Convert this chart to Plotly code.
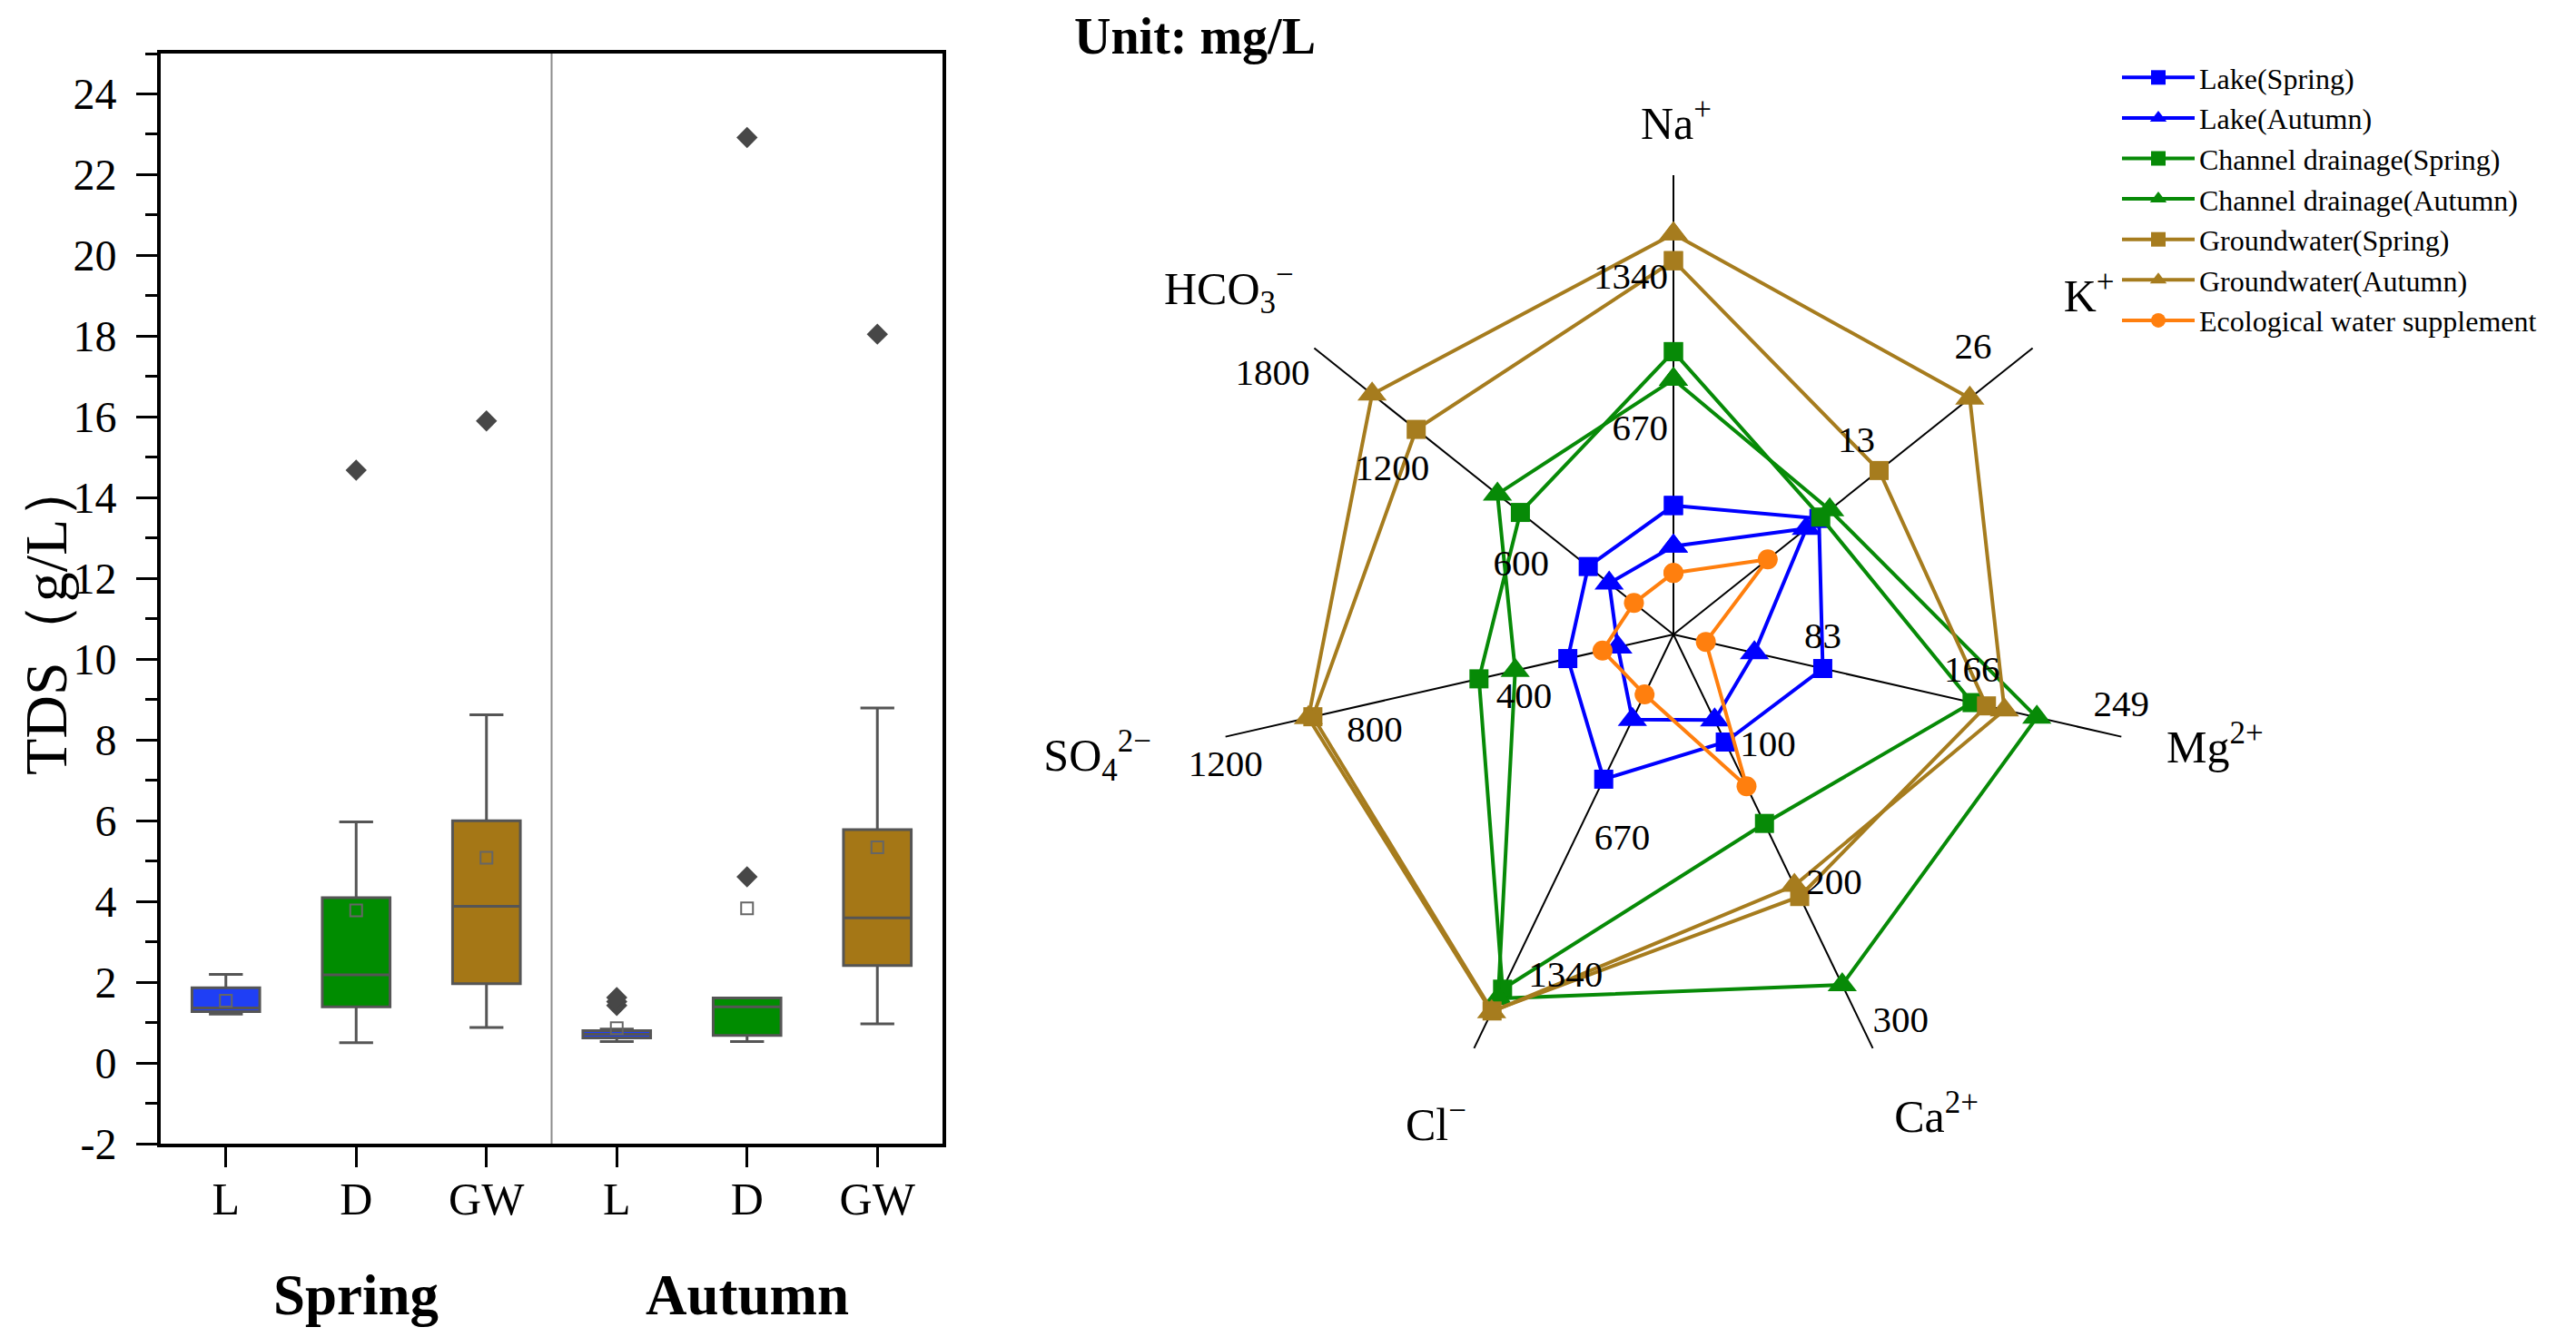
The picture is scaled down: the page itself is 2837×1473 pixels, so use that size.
import math
import plotly.graph_objects as go

# ---------------- Left panel: TDS box plot (g/L) ----------------
GROUPS = ["L", "D", "GW", "L", "D", "GW"]
SEASONS = ["Spring", "Autumn"]
BOX_Q1 = [1.27, 1.39, 1.96, 0.62, 0.68, 2.41]
BOX_MEDIAN = [1.36, 2.18, 3.88, 0.71, 1.39, 3.59]
BOX_Q3 = [1.86, 4.09, 6.00, 0.80, 1.61, 5.78]
BOX_LOW = [1.21, 0.50, 0.88, 0.53, 0.53, 0.97]
BOX_HIGH = [2.19, 5.97, 8.62, 0.84, 1.61, 8.79]
BOX_MEAN = [1.54, 3.78, 5.08, 0.86, 3.83, 5.34]
OUTLIER_GROUP = [1, 2, 3, 3, 3, 4, 4, 5]
OUTLIER_TDS = [14.68, 15.90, 1.42, 1.52, 1.62, 4.61, 22.92, 18.05]
Y_TICKS = list(range(-2, 25, 2))
BOX_COLORS = ["#1f3ff5", "#008c00", "#a57716", "#1f3ff5", "#008c00", "#a57716"]

# ---------------- Right panel: radar of major ions (mg/L) ----------------
IONS = ["Na<sup>+</sup>", "K<sup>+</sup>", "Mg<sup>2+</sup>", "Ca<sup>2+</sup>",
        "Cl<sup>−</sup>", "SO<sub>4</sub><sup>2−</sup>", "HCO<sub>3</sub><sup>−</sup>"]
AXIS_LO = [-230, -10, 0, 0, -230, 0, 0]
AXIS_HI = [1800, 30, 249, 300, 1800, 1200, 1800]
AXIS_TICKS = [[670, 1340], [13, 26], [83, 166, 249], [100, 200, 300],
              [670, 1340], [400, 800, 1200], [600, 1200, 1800]]
SERIES_NAMES = ["Lake(Spring)", "Lake(Autumn)", "Channel drainage(Spring)",
                "Channel drainage(Autumn)", "Groundwater(Spring)",
                "Groundwater(Autumn)", "Ecological water supplement"]
LAKE_SPRING = [340, 6.2, 83, 78, 480, 283, 427]
LAKE_AUTUMN = [160, 4.8, 45, 62, 188, 149, 322]
DRAIN_SPRING = [1020, 6.4, 166, 137, 1510, 521, 767]
DRAIN_AUTUMN = [897, 7.4, 202, 254, 1556, 424, 882]
GW_SPRING = [1422, 12.9, 174, 190, 1617, 966, 1289]
GW_AUTUMN = [1540, 23.0, 184, 182, 1621, 978, 1510]
ECO_SUPPLY = [42, 0.5, 18, 110, 64, 190, 198]
SERIES_VALUES = [LAKE_SPRING, LAKE_AUTUMN, DRAIN_SPRING, DRAIN_AUTUMN,
                 GW_SPRING, GW_AUTUMN, ECO_SUPPLY]
SERIES_COLORS = ["#0000ff", "#0000ff", "#078a07", "#078a07", "#a67c1e", "#a67c1e", "#ff7f0e"]
SERIES_SYMBOLS = ["square", "triangle-up", "square", "triangle-up", "square", "triangle-up", "circle"]

FONT = "Liberation Serif"

# page geometry (the html body adds an 8 px margin)
OFF = 8
W, H = 2837 - OFF, 1473 - OFF
R_PX = 506                       # length of a radar spoke in px
RMAX = 1.3                       # radial range, leaves room for the ion names
CX, CY = 1843 - OFF, 699 - OFF   # radar centre in figure px
R_DOM = R_PX * RMAX

N = len(IONS)
ION_ANGLE = [k * 360.0 / N for k in range(N)]

# per-axis tick label placement: px offset from tick point + anchor
TICK_DX = [-6, -26, 0, 0, 10, 0, -5]
TICK_DY = [0, -30, -33, -28, 25, 33, 30]
TICK_POS = ["middle left", "middle center", "middle center", "middle right",
            "middle right", "middle center", "middle left"]
# ion name placement: px offset from the end of each spoke
ION_DX = [3, 62, 103, 70, -42, -141, -94]
ION_DY = [-52, -53, 16, 80, 89, 25, -61]


def shift(r, theta_deg, dx, dy):
    t = math.radians(theta_deg)
    x = r * R_PX * math.sin(t) + dx
    y = -r * R_PX * math.cos(t) + dy
    return math.hypot(x, y) / R_PX, math.degrees(math.atan2(x, -y)) % 360


fig = go.Figure()

# boxes
for i in range(len(GROUPS)):
    fig.add_trace(go.Box(
        x=[i], q1=[BOX_Q1[i]], median=[BOX_MEDIAN[i]], q3=[BOX_Q3[i]],
        lowerfence=[BOX_LOW[i]], upperfence=[BOX_HIGH[i]],
        fillcolor=BOX_COLORS[i], line=dict(color="#555555", width=3),
        width=0.52, whiskerwidth=0.5, boxpoints=False, showlegend=False,
        xaxis="x", yaxis="y"))

fig.add_trace(go.Scatter(
    x=list(range(len(GROUPS))), y=BOX_MEAN, mode="markers",
    marker=dict(symbol="square-open", size=13, color="#666666", line=dict(width=2)),
    showlegend=False))
fig.add_trace(go.Scatter(
    x=OUTLIER_GROUP, y=OUTLIER_TDS, mode="markers",
    marker=dict(symbol="diamond", size=18, color="#474747"),
    showlegend=False))

# radar spokes
sr, st = [], []
for a in ION_ANGLE:
    sr += [0, 1, None]
    st += [a, a, None]
fig.add_trace(go.Scatterpolar(
    r=sr, theta=st, mode="lines", line=dict(color="black", width=2),
    showlegend=False, hoverinfo="skip", subplot="polar"))

# radar series
for name, vals, col, sym in zip(SERIES_NAMES, SERIES_VALUES, SERIES_COLORS, SERIES_SYMBOLS):
    r = [(v - lo) / (hi - lo) for v, lo, hi in zip(vals, AXIS_LO, AXIS_HI)]
    size = {"square": 21, "triangle-up": 28, "circle": 22}[sym]
    fig.add_trace(go.Scatterpolar(
        r=r + [r[0]], theta=ION_ANGLE + [360.0], mode="lines+markers", name=name,
        line=dict(color=col, width=4),
        marker=dict(symbol=sym, size=size, color=col),
        cliponaxis=False, subplot="polar"))

# per-axis scale labels
for k in range(N):
    rr, tt = [], []
    for t in AXIS_TICKS[k]:
        r0 = (t - AXIS_LO[k]) / (AXIS_HI[k] - AXIS_LO[k])
        r1, t1 = shift(r0, ION_ANGLE[k], TICK_DX[k], TICK_DY[k])
        rr.append(r1)
        tt.append(t1)
    fig.add_trace(go.Scatterpolar(
        r=rr, theta=tt, mode="text", text=[str(t) for t in AXIS_TICKS[k]],
        textposition=TICK_POS[k], textfont=dict(family=FONT, size=41, color="black"),
        cliponaxis=False, showlegend=False, hoverinfo="skip", subplot="polar"))

# ion names
ir, it = [], []
for k in range(N):
    r1, t1 = shift(1.0, ION_ANGLE[k], ION_DX[k], ION_DY[k])
    ir.append(r1)
    it.append(t1)
fig.add_trace(go.Scatterpolar(
    r=ir, theta=it, mode="text", text=IONS, textposition="middle center",
    textfont=dict(family=FONT, size=50, color="black"),
    cliponaxis=False, showlegend=False, hoverinfo="skip", subplot="polar"))

fig.update_layout(
    width=W, height=H,
    margin=dict(l=0, r=0, t=0, b=0, pad=0, autoexpand=False),
    paper_bgcolor="white", plot_bgcolor="white",
    font=dict(family=FONT, color="black"),
    xaxis=dict(domain=[(177 - OFF) / W, (1038 - OFF) / W], range=[-0.5, 5.5],
               tickmode="array", tickvals=list(range(6)), ticktext=GROUPS,
               showline=True, linecolor="black", linewidth=4, mirror=True,
               ticks="outside", ticklen=22, tickwidth=3, tickcolor="black",
               ticklabelstandoff=-8,
               tickfont=dict(family=FONT, size=50), showgrid=False, zeroline=False,
               automargin=False),
    yaxis=dict(domain=[(H - (1260 - OFF)) / H, (H - (59 - OFF)) / H], range=[-2, 25],
               tickmode="array", tickvals=Y_TICKS, ticktext=[str(v) for v in Y_TICKS],
               showline=True, linecolor="black", linewidth=4, mirror=True,
               ticks="outside", ticklen=23, tickwidth=3, tickcolor="black",
               ticklabelstandoff=12,
               minor=dict(dtick=1, ticks="outside", ticklen=13, tickwidth=3,
                          tickcolor="black", showgrid=False),
               tickfont=dict(family=FONT, size=48), showgrid=False, zeroline=False,
               automargin=False),
    polar=dict(
        domain=dict(x=[(CX - R_DOM) / W, (CX + R_DOM) / W],
                    y=[(H - CY - R_DOM) / H, (H - CY + R_DOM) / H]),
        bgcolor="rgba(0,0,0,0)",
        radialaxis=dict(range=[0, RMAX], visible=False),
        angularaxis=dict(type="linear", direction="clockwise", rotation=90,
                         showticklabels=False, showline=False, showgrid=False,
                         ticks="")),
    legend=dict(x=(2332 - OFF) / W, y=1 - (58 - OFF) / H, xanchor="left", yanchor="top",
                font=dict(family=FONT, size=32), bgcolor="rgba(0,0,0,0)",
                tracegroupgap=0, itemwidth=80),
    shapes=[dict(type="line", xref="x", yref="y domain", x0=2.5, x1=2.5, y0=0, y1=1,
                 line=dict(color="#8c8c8c", width=2))],
    annotations=[
        dict(text="TDS（g/L）", x=(50 - OFF) / W, y=1 - (680 - OFF) / H,
             xref="paper", yref="paper", xanchor="center", yanchor="middle",
             textangle=-90, showarrow=False, font=dict(family=FONT, size=66)),
        dict(text="<b>" + SEASONS[0] + "</b>", x=1, y=1 - (1427 - OFF) / H,
             xref="x", yref="paper", xanchor="center", yanchor="middle",
             showarrow=False, font=dict(family=FONT, size=63)),
        dict(text="<b>" + SEASONS[1] + "</b>", x=4, y=1 - (1427 - OFF) / H,
             xref="x", yref="paper", xanchor="center", yanchor="middle",
             showarrow=False, font=dict(family=FONT, size=63)),
        dict(text="<b>Unit: mg/L</b>", x=(1316 - OFF) / W, y=1 - (40 - OFF) / H,
             xref="paper", yref="paper", xanchor="center", yanchor="middle",
             showarrow=False, font=dict(family=FONT, size=56)),
    ],
)

fig.write_html("out.html")
